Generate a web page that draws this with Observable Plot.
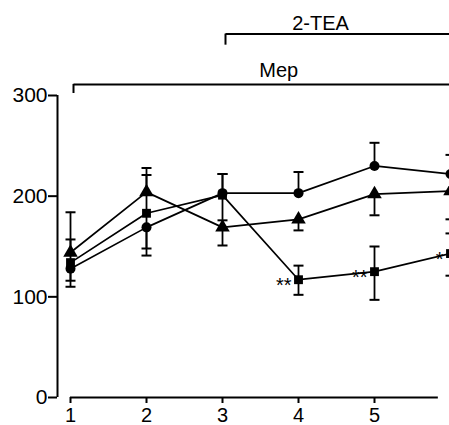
<!DOCTYPE html>
<html>
<head>
<meta charset="utf-8">
<script src="https://cdn.jsdelivr.net/npm/d3@7"></script>
<script src="https://cdn.jsdelivr.net/npm/@observablehq/plot@0.6"></script>
<style>
  html, body { margin: 0; padding: 0; background: #fff; }
</style>
</head>
<body>
<div id="chart"></div>
<script>
// ---- data ----
const days = [1, 2, 3, 4, 5, 6];
const xTicks = [1, 2, 3, 4, 5];
const yTicks = [0, 100, 200, 300];

const circleMean = [128, 169, 203, 203, 230, 222];
const circleHi   = [null, null, 222, 224, 253, 241];
const circleLo   = [116, 148, null, null, null, null];

const triMean = [144, 204, 169, 177, 202, 205];
const triHi   = [184, 228, null, null, null, null];
const triLo   = [null, null, 151, 166, 181, 177];

const sqMean = [134, 183, 201, 117, 125, 143];
const sqHi   = [157, 221, 222, 131, 150, 163];
const sqLo   = [110, 141, 176, 102, 97, 121];
const sqStars = ["", "", "", "**", "**", "*"];

const treatments = [
  {label: "Mep",   start: 1, level: 311, hook: 302, textX: 3.74, textY: 318},
  {label: "2-TEA", start: 3, level: 361, hook: 350, textX: 4.29, textY: 365}
];
const treatEnd = 6.3;
const xAxisEnd = 5.84;

// ---- build table ----
const series = [
  {name: "circle",   symbol: "circle",   mean: circleMean, hi: circleHi, lo: circleLo, r: 5},
  {name: "triangle", symbol: "triangle", mean: triMean,    hi: triHi,    lo: triLo,    r: 5.4},
  {name: "square",   symbol: "square",   mean: sqMean,     hi: sqHi,     lo: sqLo,     r: 5}
];
const rows = [];
for (const s of series) {
  days.forEach((d, i) => rows.push({series: s.name, symbol: s.symbol, r: s.r, x: d,
    mean: s.mean[i], hi: s.hi[i], lo: s.lo[i], star: s.name === "square" ? sqStars[i] : ""}));
}
const hiRows = rows.filter(d => d.hi != null);
const loRows = rows.filter(d => d.lo != null);

const capSymbol = {
  draw(context) { context.moveTo(-5, 0); context.lineTo(5, 0); }
};

const font = "'Liberation Sans', Arial, sans-serif";

const chart = Plot.plot({
  width: 449,
  height: 425,
  marginLeft: 70, marginRight: -1, marginTop: 95, marginBottom: 28,
  x: {domain: [1, 6]},
  y: {domain: [0, 300]},
  r: {type: "identity"},
  symbol: {type: "identity"},
  style: {fontFamily: font, fontSize: "21px", color: "#000", background: "#fff", overflow: "hidden"},
  marks: [
    // axes
    Plot.ruleX([1], {y1: 0, y2: 300, dx: -13, stroke: "#000", strokeWidth: 2}),
    Plot.axisY({ticks: yTicks, tickSize: 9, tickPadding: 1, dx: -13, stroke: "#000", strokeWidth: 2,
      fontSize: 21, label: null, tickFormat: d => String(d)}),
    Plot.ruleY([0], {x1: 1, x2: xAxisEnd, stroke: "#000", strokeWidth: 2}),
    Plot.axisX({ticks: xTicks, tickSize: 6, tickPadding: 4, stroke: "#000", strokeWidth: 2,
      fontSize: 20, label: null, tickFormat: d => String(d)}),

    // treatment brackets
    Plot.link(treatments, {x1: "start", x2: treatEnd, y1: "level", y2: "level", dx: 3, stroke: "#000", strokeWidth: 2}),
    Plot.ruleX(treatments, {x: "start", y1: "hook", y2: "level", dx: 3, stroke: "#000", strokeWidth: 2}),
    Plot.text(treatments, {x: "textX", y: "textY", text: "label", lineAnchor: "bottom", fontSize: 20}),

    // error bars
    Plot.ruleX(hiRows, {x: "x", y1: "mean", y2: "hi", stroke: "#000", strokeWidth: 1.8}),
    Plot.ruleX(loRows, {x: "x", y1: "mean", y2: "lo", stroke: "#000", strokeWidth: 1.8}),
    Plot.dot(hiRows, {x: "x", y: "hi", symbol: capSymbol, stroke: "#000", strokeWidth: 2}),
    Plot.dot(loRows, {x: "x", y: "lo", symbol: capSymbol, stroke: "#000", strokeWidth: 2}),

    // lines
    Plot.line(rows, {x: "x", y: "mean", z: "series", stroke: "#000", strokeWidth: 1.7}),

    // markers
    Plot.dot(rows, {x: "x", y: "mean", symbol: "symbol", r: "r", fill: "#000", stroke: "none"}),

    // significance stars
    Plot.text(rows.filter(d => d.star), {x: "x", y: "mean", text: "star", textAnchor: "end",
      dx: -7, dy: 6, fontSize: 20, fill: "#000"})
  ]
});
document.getElementById("chart").appendChild(chart);
</script>
</body>
</html>
